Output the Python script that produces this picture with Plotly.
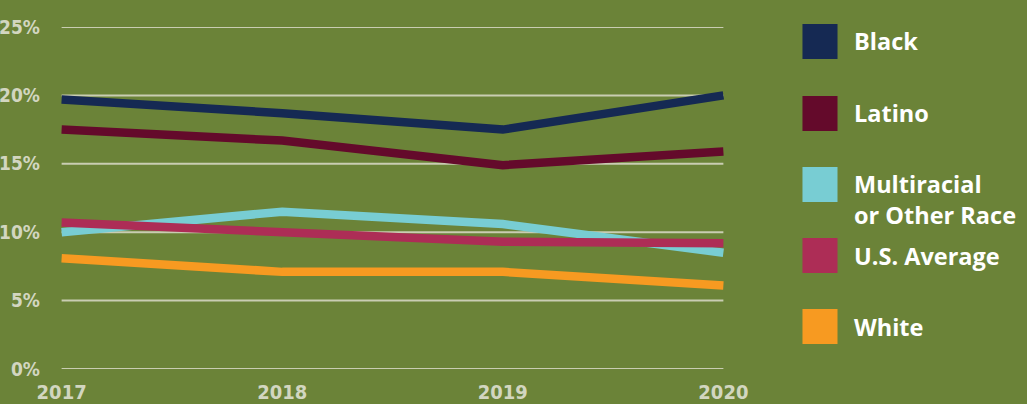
import plotly.graph_objects as go

years = [2017, 2018, 2019, 2020]
black = [19.7, 18.7, 17.5, 20.0]
latino = [17.5, 16.7, 14.9, 15.9]
multiracial = [10.0, 11.5, 10.6, 8.5]
us_average = [10.7, 10.0, 9.3, 9.2]
white = [8.1, 7.1, 7.1, 6.1]

series_names = ["Black", "Latino", "Multiracial<br>or Other Race", "U.S. Average", "White"]
series_values = [black, latino, multiracial, us_average, white]
series_colors = ["#152953", "#640a2b", "#78cdd3", "#ad2d56", "#f79a21"]

y_ticks = [0, 5, 10, 15, 20, 25]
x_ticks = [2017, 2018, 2019, 2020]

W, H = 1027, 404
BG = "#6b8338"
GRID = "#c9cdb2"
TICK = "#d2d6c0"
TICK_FONT = "DejaVu Sans Condensed, DejaVu Sans"

xr = [2016.97, 2020.03]
px_per_year = (723 - 62) / 3.0
l = 62 - 0.03 * px_per_year
r = W - (723 + 0.03 * px_per_year)
t, b = 27, H - 369

fig = go.Figure()
for name, vals, col in zip(series_names, series_values, series_colors):
    fig.add_trace(go.Scatter(x=years, y=vals, mode="lines", name=name,
                             line=dict(color=col, width=8.5), showlegend=False,
                             hoverinfo="skip"))

for v in y_ticks:
    fig.add_shape(type="line", xref="x", yref="y", x0=years[0], x1=years[-1],
                  y0=v, y1=v, line=dict(color=GRID, width=2), layer="below")

plot_w = W - l - r
plot_h = H - t - b
def px_to_paper_x(px):
    return (px - l) / plot_w
def px_to_paper_y(py):
    return (H - b - py) / plot_h

sq_tops = [24, 96, 167, 238, 309]
for name, col, top in zip(series_names, series_colors, sq_tops):
    fig.add_shape(type="rect", xref="paper", yref="paper",
                  x0=px_to_paper_x(802), x1=px_to_paper_x(837),
                  y0=px_to_paper_y(top + 35), y1=px_to_paper_y(top),
                  fillcolor=col, line=dict(width=0))
    cy = top + 17.5 + (15 if "<br>" in name else 0)
    fig.add_annotation(xref="paper", yref="paper", x=px_to_paper_x(851),
                       y=px_to_paper_y(cy), text="<b>%s</b>" % name,
                       showarrow=False, xanchor="left", yanchor="middle",
                       align="left",
                       font=dict(family="Open Sans, sans-serif", size=23.5,
                                 color="white"))

fig.update_layout(
    width=W, height=H,
    margin=dict(l=l, r=r, t=t, b=b, pad=0, autoexpand=False),
    paper_bgcolor=BG, plot_bgcolor=BG,
    xaxis=dict(range=xr, tickvals=x_ticks, ticktext=[str(v) for v in x_ticks],
               showgrid=False, zeroline=False, showline=False, automargin=False,
               ticks="", ticklabelstandoff=9,
               tickfont=dict(family=TICK_FONT, size=20, color=TICK, weight="bold")),
    yaxis=dict(range=[0, 25], tickvals=y_ticks,
               ticktext=["%d%%" % v for v in y_ticks],
               showgrid=False, zeroline=False, showline=False, ticks="",
               automargin=False, ticklabelstandoff=14,
               tickfont=dict(family=TICK_FONT, size=19, color=TICK, weight="bold")),
    showlegend=False,
)

fig.write_html("out.html", config={"displayModeBar": False},
               post_script="document.body.style.margin='0';document.body.style.overflow='hidden';")
